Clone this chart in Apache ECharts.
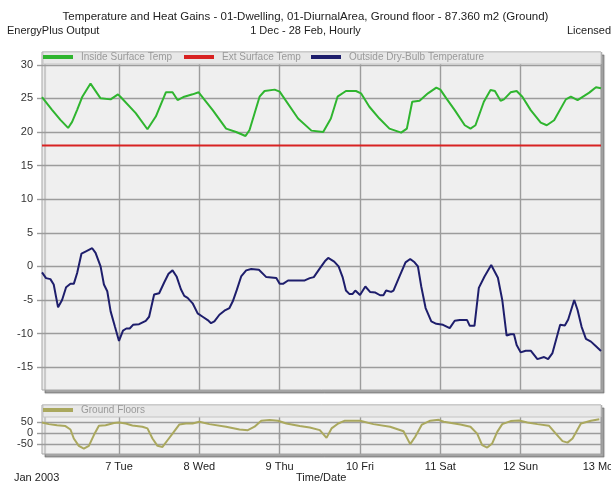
<!DOCTYPE html>
<html>
<head>
<meta charset="utf-8">
<script src="https://cdn.jsdelivr.net/npm/echarts@6/dist/echarts.min.js"></script>
<style>
  html, body { margin: 0; padding: 0; background: #ffffff; }
  #chart { width: 611px; height: 484px; }
</style>
</head>
<body>
<div id="chart"></div>
<script>
// Hour offsets are counted from 6 Jan 2003 00:00.
const dayTicks = [24, 48, 72, 96, 120, 144, 168];
const dayLabels = ['7 Tue', '8 Wed', '9 Thu', '10 Fri', '11 Sat', '12 Sun', '13 Mon'];
const tempTicks = [-15, -10, -5, 0, 5, 10, 15, 20, 25, 30];
const groundOuterTicks = [-50, 50];
const groundMidTicks = [0];

// Inside Surface Temp (C)
const insideHours = [1, 4, 6.5, 8.8, 10, 11.5, 13, 15.5, 18.5, 21.5, 23.7, 24.5, 29, 32.5, 35, 38, 40, 41.5, 43.5, 46, 47.8,
  52, 56, 59, 61.8, 63, 66, 67.5, 70.5, 72, 77.5, 81.5, 85, 87.3, 89.3, 91.8, 94.8, 96.3, 98.8, 101.8, 104.8, 108.3,
  110, 111.6, 113.8, 116.3, 118.8, 120, 121.8, 124.3, 127.3, 129, 130.5, 133, 135, 136.3, 138, 139, 141, 142.8, 144.5,
  147, 150, 151.8, 154, 157.5, 159, 161, 164.5, 166.5, 168];
const insideTemp = [25.2, 23.3, 21.8, 20.6, 21.5, 23.3, 25.2, 27.2, 25.0, 24.85, 25.6, 25.2, 22.8, 20.4, 22.3, 25.9, 25.9, 24.75, 25.25, 25.6, 25.9,
  23.25, 20.5, 20.0, 19.4, 20.3, 25.25, 26.1, 26.3, 26.0, 22.0, 20.2, 20.0, 22.0, 25.25, 26.1, 26.1, 25.75, 23.75, 22.0, 20.5, 19.9,
  20.5, 24.5, 24.65, 25.75, 26.6, 26.3, 25.0, 23.25, 21.0, 20.5, 21.0, 24.5, 26.25, 26.1, 24.65, 24.85, 25.9, 26.1, 25.25,
  23.25, 21.4, 21.0, 21.75, 24.85, 25.25, 24.75, 25.85, 26.65, 26.5];

// Ext Surface Temp (C), constant over the period
const extHours = [1, 168];
const extTemp = [18, 18];

// Outside Dry-Bulb Temperature (C)
const outsideHours = [1, 2.2, 3.5, 4.5, 5.8, 7, 8.2, 9.5, 10.5, 11.5, 12.8, 14, 16, 17, 18.5, 19.5, 20.5, 21.5, 22.8, 24,
  25.2, 26.2, 27.2, 28.2, 30, 32, 33, 34.5, 36, 37.5, 38.8, 40, 41.2, 42.5, 43.5, 44.5, 46, 47.5, 49, 50.5, 51.5, 52.5,
  54, 55.5, 57, 58, 59.2, 60.5, 62, 63.5, 65.8, 68, 71, 72, 73, 74.5, 79.5, 81, 82.2, 84, 85.5, 86.5, 87, 88.3, 89.6,
  90.8, 91.8, 92.8, 93.8, 94.6, 96, 97.6, 99, 100.6, 102, 103, 103.8, 105.3, 106, 107.8, 109.6, 111, 112.3, 113.3, 114.3,
  115.6, 117.3, 118.8, 120.8, 122.8, 124.3, 125.8, 128, 128.8, 130.2, 131.5, 133.2, 135.2, 137.2, 138.5, 139.8, 141, 142,
  142.8, 144, 145.5, 147, 149, 151, 152.2, 153.5, 155.8, 157.2, 158.2, 160, 161, 162.2, 163.5, 165, 166.5, 168];
const outsideTemp = [-0.9, -1.75, -1.9, -2.7, -6.1, -5.0, -3.1, -2.6, -2.6, -1.0, 1.9, 2.2, 2.7, 2.0, 0.0, -2.7, -3.7, -6.7, -9.0, -11.1,
  -9.55, -9.25, -9.25, -8.7, -8.6, -8.1, -7.5, -4.2, -4.0, -2.4, -1.1, -0.6, -1.5, -3.4, -4.4, -4.7, -5.5, -7.0, -7.5, -8.0, -8.45, -8.2,
  -7.2, -6.6, -6.2, -5.2, -3.5, -1.5, -0.6, -0.4, -0.5, -1.6, -1.75, -2.6, -2.6, -2.1, -2.1, -1.75, -1.6, -0.3, 0.75, 1.25, 1.25, 0.7, 0.0,
  -1.6, -3.6, -4.1, -4.1, -3.6, -4.25, -3.0, -3.8, -3.9, -4.3, -4.3, -3.6, -3.8, -3.6, -1.5, 0.6, 1.1, 0.6, 0.0, -3.0,
  -6.2, -8.2, -8.55, -8.7, -9.2, -8.1, -8.0, -8.0, -8.85, -8.85, -3.2, -1.5, 0.2, -1.7, -5.0, -10.3, -10.1, -10.1,
  -11.7, -12.8, -12.55, -12.55, -13.8, -13.5, -13.8, -12.9, -8.7, -8.8, -7.9, -5.0, -6.5, -9.0, -10.8, -11.2, -11.9, -12.6];

// Ground Floors heat gain (W)
const groundHours = [1, 3, 5.5, 8, 9.5, 10.5, 12, 13.5, 15, 16.5, 18, 20, 22.5, 24, 26, 28, 31, 32.5, 34, 35.5, 37, 38.5, 40,
  42, 44, 46, 48, 51, 56, 60, 62.5, 64.5, 66.5, 69, 71.5, 74, 78, 81, 84, 86, 87.5, 89.5, 91.5, 96, 100, 105, 109, 111,
  112.5, 114.5, 117, 119.5, 121, 126, 129, 131, 132.5, 134, 135.5, 137, 138.5, 141, 143.5, 146, 149, 152.5, 154.5,
  156.5, 158, 159.5, 162, 165, 167.5];
const groundFloors = [50, 42, 37, 33, 17, -25, -59, -72, -59, -9, 34, 37, 47, 50, 45, 36, 30, 22, -25, -59, -64, -33, -2,
  40, 45, 45, 53, 42, 30, 17, 14, 30, 58, 61, 58, 45, 33, 26, 14, -22, 22, 45, 58, 58, 42, 30, 9, -51,
  -17, 40, 58, 62, 53, 40, 30, -2, -56, -67, -48, 6, 42, 56, 59, 50, 42, 34, -2,
  -37, -44, -25, 45, 58, 65];

const pairs = (xs, ys) => xs.map((x, i) => [x, ys[i]]);

const FONT = 'Liberation Sans';
const gridLine = { show: true, lineStyle: { color: '#9c9c9c', width: 1.4 } };
const tickLine = { color: '#9c9c9c', width: 1.4 };
const frame = {
  show: true, backgroundColor: '#efefef', borderColor: '#a4a4a4', borderWidth: 1,
  shadowColor: 'rgba(0,0,0,0.35)', shadowOffsetX: 3, shadowOffsetY: 3, shadowBlur: 1,
  containLabel: false, outerBoundsMode: 'none'
};
const plainText = (size) => ({ fontSize: size, fontWeight: 'normal', color: '#222', fontFamily: FONT });
const legendText = { color: '#9a9a9a', fontSize: 10, fontFamily: FONT, padding: [0, 0, 0, 3] };
const yLabel = (ticks) => ({ customValues: ticks, margin: 9, color: '#333', fontSize: 11, fontFamily: FONT,
  hideOverlap: false, showMinLabel: true, showMaxLabel: true });

const chart = echarts.init(document.getElementById('chart'), null, { renderer: 'canvas' });

chart.setOption({
  animation: false,
  backgroundColor: '#ffffff',
  textStyle: { fontFamily: FONT },
  title: [
    { text: 'Temperature and Heat Gains - 01-Dwelling, 01-DiurnalArea, Ground floor - 87.360 m2 (Ground)',
      left: 'center', top: 11, padding: 0, textStyle: plainText(11.5) },
    { text: 'EnergyPlus Output', left: 7, top: 25, padding: 0, textStyle: plainText(11) },
    { text: '1 Dec - 28 Feb, Hourly', left: 'center', top: 25, padding: 0, textStyle: plainText(11) },
    { text: 'Licensed', left: 567, top: 25, padding: 0, textStyle: plainText(11) },
    { text: 'Jan 2003', left: 14, top: 472, padding: 0, textStyle: plainText(11) },
    { text: 'Time/Date', left: 296, top: 472, padding: 0, textStyle: plainText(11) }
  ],
  graphic: [
    { type: 'rect', z: 3, shape: { x: 43, y: 52, width: 558, height: 12 },
      style: { fill: '#e8e8e8', stroke: '#c4c4c4', lineWidth: 1 } },
    { type: 'rect', z: 3, shape: { x: 43, y: 405, width: 558, height: 12 },
      style: { fill: '#e8e8e8', stroke: '#c4c4c4', lineWidth: 1 } }
  ],
  legend: [
    { left: 43, top: 52, padding: 0, z: 10, itemWidth: 30, itemHeight: 4, icon: 'rect',
      data: ['Inside Surface Temp'], textStyle: legendText },
    { left: 184, top: 52, padding: 0, z: 10, itemWidth: 30, itemHeight: 4, icon: 'rect',
      data: ['Ext Surface Temp'], textStyle: legendText },
    { left: 311, top: 52, padding: 0, z: 10, itemWidth: 30, itemHeight: 4, icon: 'rect',
      data: ['Outside Dry-Bulb Temperature'], textStyle: legendText },
    { left: 43, top: 405, padding: 0, z: 10, itemWidth: 30, itemHeight: 4, icon: 'rect',
      data: ['Ground Floors'], textStyle: legendText }
  ],
  grid: [
    Object.assign({ left: 42, top: 52, width: 559, height: 338 }, frame),
    Object.assign({ left: 42, top: 405, width: 559, height: 49 }, frame)
  ],
  xAxis: [
    { gridIndex: 0, type: 'value', min: 1, max: 168,
      axisLine: { show: false },
      axisTick: { show: false, customValues: dayTicks },
      axisLabel: { show: false, customValues: dayTicks },
      splitLine: gridLine },
    { gridIndex: 1, type: 'value', min: 1, max: 168,
      axisLine: { show: false },
      axisTick: { show: true, length: 6, customValues: dayTicks, lineStyle: tickLine },
      axisLabel: { show: true, customValues: dayTicks, margin: 7, color: '#222', fontSize: 11, fontFamily: FONT,
        hideOverlap: false, showMinLabel: true, showMaxLabel: true,
        formatter: v => dayLabels[dayTicks.indexOf(Math.round(v))] || '' },
      splitLine: gridLine }
  ],
  yAxis: [
    { gridIndex: 0, type: 'value', min: -18.4, max: 31.9,
      axisLine: { show: false },
      axisTick: { show: true, length: 5, customValues: tempTicks, lineStyle: tickLine },
      axisLabel: yLabel(tempTicks),
      splitLine: gridLine },
    { gridIndex: 1, type: 'value', min: -97, max: 131, position: 'left',
      axisLine: { show: false },
      axisTick: { show: true, length: 5, customValues: groundOuterTicks, lineStyle: tickLine },
      axisLabel: yLabel(groundOuterTicks),
      splitLine: gridLine },
    { gridIndex: 1, type: 'value', min: -97, max: 131, position: 'left', offset: 0,
      axisLine: { show: false },
      axisTick: { show: true, length: 5, customValues: groundMidTicks, lineStyle: tickLine },
      axisLabel: yLabel(groundMidTicks),
      splitLine: gridLine }
  ],
  series: [
    { name: 'Inside Surface Temp', type: 'line', xAxisIndex: 0, yAxisIndex: 0, showSymbol: false,
      color: '#2fb52f', lineStyle: { width: 2 }, data: pairs(insideHours, insideTemp) },
    { name: 'Ext Surface Temp', type: 'line', xAxisIndex: 0, yAxisIndex: 0, showSymbol: false,
      color: '#d82222', lineStyle: { width: 2 }, data: pairs(extHours, extTemp) },
    { name: 'Outside Dry-Bulb Temperature', type: 'line', xAxisIndex: 0, yAxisIndex: 0, showSymbol: false,
      color: '#1e1e6c', lineStyle: { width: 2 }, data: pairs(outsideHours, outsideTemp) },
    { name: 'Ground Floors', type: 'line', xAxisIndex: 1, yAxisIndex: 1, showSymbol: false,
      color: '#aaa85e', lineStyle: { width: 2 }, data: pairs(groundHours, groundFloors) }
  ]
});
</script>
</body>
</html>
